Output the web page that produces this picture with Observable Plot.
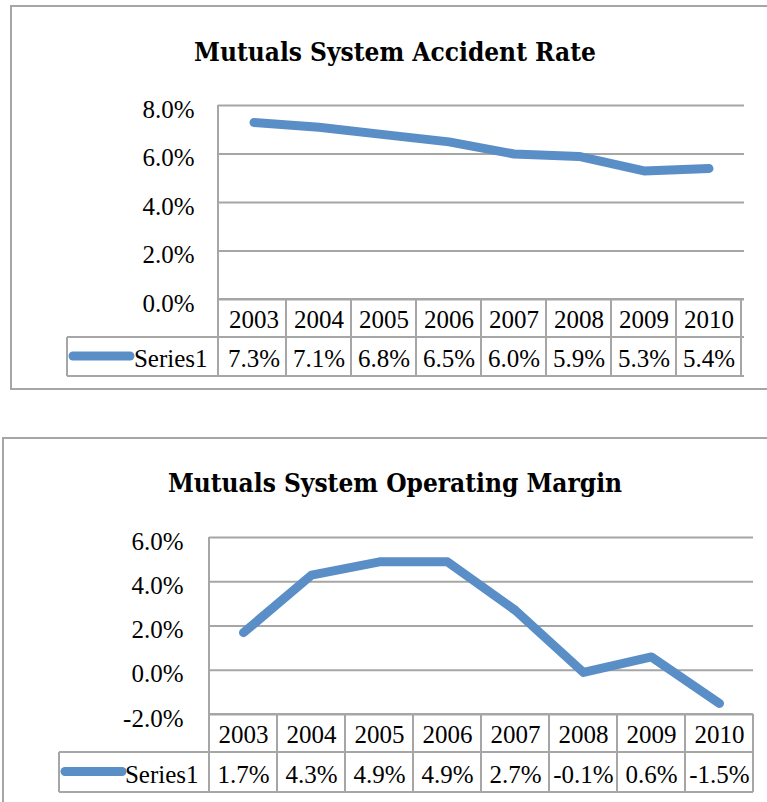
<!DOCTYPE html>
<html>
<head>
<meta charset="utf-8">
<script src="https://cdn.jsdelivr.net/npm/d3@7"></script>
<script src="https://cdn.jsdelivr.net/npm/@observablehq/plot@0.6"></script>
<style>
  html, body { margin: 0; padding: 0; background: #fff; }
  #page { position: relative; width: 767px; height: 802px; overflow: hidden; background: #fff; }
  .box { position: absolute; box-sizing: border-box; border: 2px solid #a6a6a6; }
  .title { position: absolute; left: 0; width: 790px; text-align: center; font-family: "DejaVu Serif Condensed", "DejaVu Serif", serif; font-stretch: condensed; font-weight: bold; font-size: 26px; line-height: 30px; color: #000; white-space: nowrap; }
  .chart { position: absolute; left: 0; }
  #page svg text { font-family: "Liberation Serif", serif !important; font-size: 25px !important; font-variant: normal !important; }
</style>
</head>
<body>
<div id="page">
  <div class="box" style="left:10px; top:5px; width:800px; height:385px;"></div>
  <div class="title" style="top:37px;">Mutuals System Accident Rate</div>
  <div class="chart" id="chart1" style="top:80px;"></div>

  <div class="box" style="left:2px; top:437px; width:800px; height:420px;"></div>
  <div class="title" style="top:468px;">Mutuals System Operating Margin</div>
  <div class="chart" id="chart2" style="top:510px;"></div>
</div>
<script>
// ---- data ----
const years = ["2003", "2004", "2005", "2006", "2007", "2008", "2009", "2010"];
const accidentRate = [7.3, 7.1, 6.8, 6.5, 6.0, 5.9, 5.3, 5.4];
const operatingMargin = [1.7, 4.3, 4.9, 4.9, 2.7, -0.1, 0.6, -1.5];
const accidentTicks = [0, 2, 4, 6, 8];
const marginTicks = [-2, 0, 2, 4, 6];
const seriesName = "Series1";

const lineColor = "#5a8ec7";
const gridColor = "#a6a6a6";
const fmt = d => d.toFixed(1) + "%";
const textFont = {fontFamily: "Liberation Serif", fontSize: 25, fill: "#000"};

function tableMark(cfg) {
  return function(index, scales, values, dims) {
    const x = scales.x;
    const n = years.length;
    const x0 = dims.marginLeft;
    const x1 = dims.width - dims.marginRight;
    const bw = (x && typeof x.bandwidth === "function") ? x.bandwidth() : (x1 - x0) / n;
    const top = dims.marginTop;
    const y0 = dims.height - dims.marginBottom;
    const yA = y0 + cfg.row1;
    const yB = yA + cfg.row2;
    const cellLeft = x0 + cfg.cellLeft;
    const g = d3.create("svg:g")
      .attr("stroke", gridColor)
      .attr("stroke-width", 2)
      .attr("fill", "none");
    const line = (xa, ya, xb, yb) => g.append("line").attr("x1", xa).attr("y1", ya).attr("x2", xb).attr("y2", yb);
    line(x0, top, x0, yB);
    line(x0, y0, x1, y0);
    line(cellLeft, yA, x1, yA);
    line(cellLeft, yB, x1, yB);
    years.forEach(yr => {
      const xe = (x ? x(yr) : x0) + bw;
      line(xe, y0, xe, yB);
    });
    line(cellLeft, yA, cellLeft, yB);
    const ys = yA + cfg.row2 / 2 - 0.5;
    g.append("line")
      .attr("x1", x0 + cfg.swatch[0]).attr("x2", x0 + cfg.swatch[1])
      .attr("y1", ys).attr("y2", ys)
      .attr("stroke", lineColor).attr("stroke-width", 9).attr("stroke-linecap", "round");
    return g.node();
  };
}

function makeChart(values, ticks, cfg) {
  const data = years.map((year, i) => ({year, value: values[i]}));
  const yMin = ticks[0];
  return Plot.plot({
    width: 767,
    height: cfg.height,
    marginLeft: cfg.marginLeft,
    marginRight: cfg.marginRight,
    marginTop: cfg.marginTop,
    marginBottom: cfg.marginBottom,
    style: {fontFamily: "Liberation Serif", fontSize: "25px", color: "#000", background: "transparent", overflow: "visible"},
    x: {type: "band", domain: years, padding: 0, axis: null},
    y: {domain: [ticks[0], ticks[ticks.length - 1]], axis: null},
    marks: [
      Plot.ruleY(ticks, {stroke: gridColor, strokeWidth: 2}),
      Plot.text(ticks, {y: d => d, frameAnchor: "left", lineAnchor: "middle", textAnchor: "end", dx: cfg.labelDx, dy: 4, text: fmt, ...textFont}),
      tableMark(cfg),
      Plot.line(data, {x: "year", y: "value", stroke: lineColor, strokeWidth: 9, strokeLinecap: "round", strokeLinejoin: "round"}),
      Plot.text(data, {x: "year", y: () => yMin, lineAnchor: "middle", dy: cfg.row1 / 2 + 1, text: "year", ...textFont}),
      Plot.text(data, {x: "year", y: () => yMin, lineAnchor: "middle", dy: cfg.row1 + cfg.row2 / 2 + 2, text: d => fmt(d.value), ...textFont}),
      Plot.text([seriesName], {frameAnchor: "bottom-left", lineAnchor: "middle", textAnchor: "end", dx: -11, dy: cfg.row1 + cfg.row2 / 2 + 2, text: d => d, ...textFont})
    ]
  });
}

document.getElementById("chart1").appendChild(makeChart(accidentRate, accidentTicks, {
  height: 305, marginLeft: 218, marginRight: 23, marginTop: 25, marginBottom: 86,
  row1: 38, row2: 39, cellLeft: -151, swatch: [-145, -88], labelDx: -24
}));
document.getElementById("chart2").appendChild(makeChart(operatingMargin, marginTicks, {
  height: 290, marginLeft: 209, marginRight: 14, marginTop: 27, marginBottom: 86,
  row1: 38, row2: 40, cellLeft: -150, swatch: [-144, -87], labelDx: -26
}));
</script>
</body>
</html>
